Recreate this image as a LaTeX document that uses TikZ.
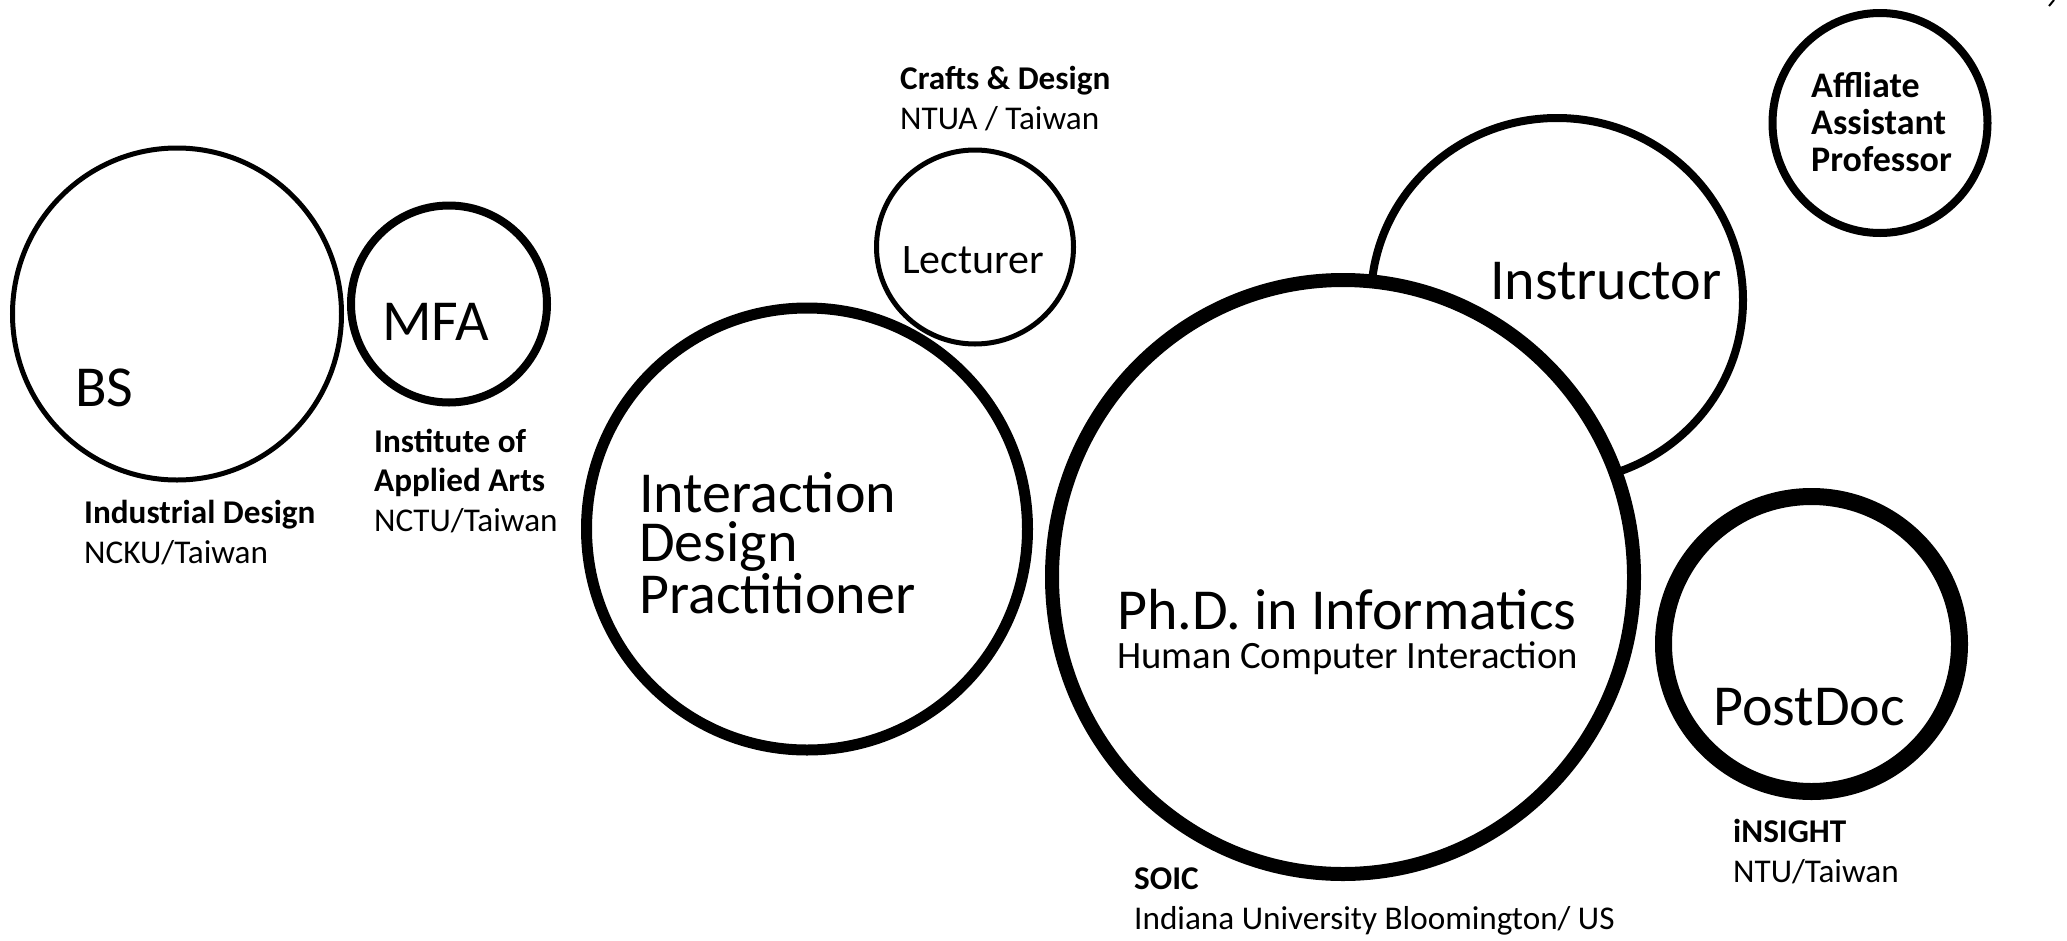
\documentclass[tikz,border=0pt]{standalone}
\usepackage{fontspec}
\setmainfont{Carlito}
\usetikzlibrary{shapes.geometric}
\begin{document}
\begin{tikzpicture}[x=1pt,y=-1pt,
  bub/.style={ellipse, draw=black, fill=white, inner sep=0pt},
  lbl/.style={anchor=base west, inner sep=0pt, align=left, font=\fontsize{33.2}{39.5}\selectfont},
  big/.style={anchor=base west, inner sep=0pt, align=left, font=\fontsize{58}{49.5}\selectfont},
  affl/.style={anchor=base west, inner sep=0pt, align=left, font=\fontsize{36}{37}\selectfont\bfseries}]
\useasboundingbox (0,0) rectangle (2067,940);
\fill[white] (0,0) rectangle (2067,940);

% bubbles
\node[bub, line width=5pt, minimum width=329pt, minimum height=332pt] (bs) at (177,314) {};
\node[bub, line width=8pt, minimum width=196pt, minimum height=197pt] (mfa) at (449,304) {};
\node[bub, line width=5pt, minimum width=197pt, minimum height=194pt] (lec) at (975,247) {};
\node[bub, line width=11pt, minimum width=441pt, minimum height=442pt] (idp) at (807,529) {};
\node[bub, line width=8pt, minimum width=372pt, minimum height=364pt] (ins) at (1557,300) {};
\node[bub, line width=14pt, minimum width=582pt, minimum height=594pt] (phd) at (1343,577) {};
\node[bub, line width=8pt, minimum width=215pt, minimum height=220pt] (aff) at (1880,123) {};
\node[bub, line width=17pt, minimum width=296pt, minimum height=295pt] (pd) at (1811.5,644) {};

% texts inside bubbles (base anchor = baseline of the last line)
\node[big] (tbs) at (75,406) {BS};
\node[big] (tmfa) at (382,340) {MFA};
\node[font=\fontsize{42}{45}\selectfont, anchor=base west, inner sep=0pt] (tlec) at (902,273) {Lecturer};
\node[big] (tidp) at (639,613) {Interaction\\Design\\Practitioner};
\node[big] (tins) at (1490,299) {Instructor};
\node[big] (tphd) at (1117,668) {Ph.D. in Informatics\\[-11pt]{\fontsize{38.7}{38}\selectfont Human Computer Interaction}};
\node[big] (tpd) at (1713,725) {PostDoc};
\node[affl] (taff) at (1811,171) {Affliate\\Assistant\\Professor};

% labels
\node[lbl] (lbs) at (84,563) {\textbf{Industrial Design}\\NCKU/Taiwan};
\node[lbl] (lmfa) at (374,531) {\textbf{Institute of}\\\textbf{Applied Arts}\\NCTU/Taiwan};
\node[lbl] (llec) at (900,129) {\textbf{Crafts \& Design}\\NTUA / Taiwan};
\node[lbl] (lphd) at (1134,929) {\textbf{SOIC}\\Indiana University Bloomington/ US};
\node[lbl] (lpd) at (1733,882) {\textbf{iNSIGHT}\\NTU/Taiwan};

% stray mark top right
\coordinate (m1) at (2054,0);
\coordinate (m2) at (2049,6);
\draw[line width=2pt] (m1) -- (m2);
\end{tikzpicture}
\end{document}
